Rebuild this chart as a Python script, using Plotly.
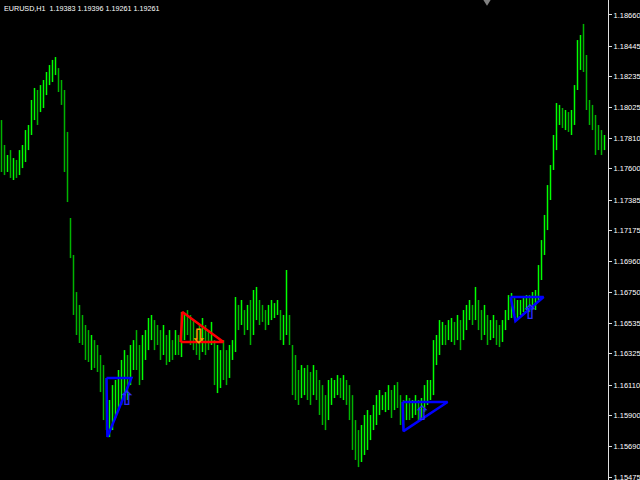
import plotly.graph_objects as go

# ---- data (EURUSD H1 bars) ----
high = [1.17936,1.17764,1.17695,1.17729,1.17674,1.17661,1.17729,1.17764,1.17867,1.17902,
        1.18074,1.18157,1.18143,1.18177,1.18212,1.18267,1.18315,1.18350,1.18370,1.18294,
        1.18212,1.18143,1.17854,1.17261,1.17006,1.16751,1.16662,1.16593,1.16524,1.16489,
        1.16455,1.16420,1.16386,1.16317,1.16248,1.16159,1.16007,1.16110,1.16145,1.16214,
        1.16283,1.16351,1.16317,1.16386,1.16420,1.16489,1.16386,1.16455,1.16489,1.16572,
        1.16593,1.16558,1.16524,1.16489,1.16524,1.16455,1.16489,1.16420,1.16489,1.16455,
        1.16613,1.16593,1.16627,1.16593,1.16558,1.16489,1.16524,1.16572,1.16524,1.16489,
        1.16545,1.16420,1.16386,1.16351,1.16420,1.16351,1.16386,1.16420,1.16717,1.16662,
        1.16696,1.16627,1.16662,1.16696,1.16765,1.16786,1.16696,1.16662,1.16627,1.16662,
        1.16696,1.16675,1.16696,1.16627,1.16593,1.16903,1.16593,1.16386,1.16317,1.16214,
        1.16248,1.16228,1.16248,1.16200,1.16248,1.16214,1.16145,1.16110,1.16041,1.16145,
        1.16159,1.16145,1.16179,1.16159,1.16179,1.16145,1.16110,1.16041,1.15869,1.15800,
        1.15835,1.15904,1.15938,1.15904,1.15973,1.16041,1.16076,1.16041,1.16062,1.16110,
        1.16076,1.16110,1.16131,1.16041,1.16007,1.16041,1.16021,1.16007,1.16041,1.16007,
        1.16021,1.16110,1.16145,1.16145,1.16420,1.16455,1.16558,1.16545,1.16524,1.16558,
        1.16572,1.16545,1.16593,1.16558,1.16627,1.16662,1.16696,1.16662,1.16786,1.16696,
        1.16627,1.16662,1.16593,1.16558,1.16593,1.16558,1.16524,1.16558,1.16627,1.16730,
        1.16744,1.16710,1.16696,1.16696,1.16724,1.16730,1.16730,1.16751,1.16765,1.16937,
        1.17109,1.17282,1.17488,1.17626,1.17833,1.18053,1.18040,1.18019,1.18005,1.17991,
        1.18005,1.18177,1.18487,1.18522,1.18598,1.18384,1.18074,1.18040,1.17971,1.17902,
        1.17867,1.17833]
low = [1.17578,1.17557,1.17578,1.17537,1.17523,1.17537,1.17557,1.17605,1.17647,1.17729,
       1.17833,1.17936,1.17902,1.17991,1.18019,1.18108,1.18177,1.18198,1.18246,1.18129,
       1.18040,1.17578,1.17371,1.16985,1.16593,1.16455,1.16400,1.16386,1.16283,1.16269,
       1.16214,1.16228,1.16200,1.16062,1.15869,1.15800,1.15752,1.15800,1.15883,1.15938,
       1.15973,1.16041,1.16007,1.16110,1.16214,1.16214,1.16110,1.16145,1.16283,1.16351,
       1.16420,1.16351,1.16386,1.16283,1.16317,1.16248,1.16269,1.16283,1.16317,1.16317,
       1.16303,1.16420,1.16455,1.16386,1.16351,1.16317,1.16283,1.16338,1.16317,1.16351,
       1.16386,1.16110,1.16055,1.16090,1.16145,1.16110,1.16159,1.16283,1.16338,1.16489,
       1.16524,1.16455,1.16489,1.16386,1.16455,1.16558,1.16524,1.16545,1.16489,1.16524,
       1.16558,1.16572,1.16593,1.16420,1.16386,1.16455,1.16386,1.16041,1.16007,1.15973,
       1.16021,1.16041,1.16007,1.15973,1.16041,1.16007,1.15904,1.15835,1.15800,1.15869,
       1.15973,1.16021,1.16041,1.16021,1.16007,1.15973,1.15869,1.15663,1.15594,1.15545,
       1.15580,1.15628,1.15663,1.15731,1.15800,1.15835,1.15904,1.15938,1.15924,1.15938,
       1.15883,1.15938,1.15952,1.15835,1.15814,1.15869,1.15869,1.15883,1.15904,1.15856,
       1.15869,1.15924,1.15973,1.16007,1.16041,1.16248,1.16317,1.16386,1.16386,1.16420,
       1.16407,1.16386,1.16420,1.16351,1.16420,1.16489,1.16558,1.16524,1.16558,1.16489,
       1.16420,1.16455,1.16386,1.16420,1.16434,1.16386,1.16372,1.16407,1.16489,1.16558,
       1.16572,1.16593,1.16572,1.16593,1.16613,1.16627,1.16613,1.16627,1.16627,1.16696,
       1.16834,1.17006,1.17178,1.17385,1.17592,1.17729,1.17902,1.17881,1.17867,1.17854,
       1.17833,1.17902,1.18143,1.18281,1.18267,1.18005,1.17902,1.17867,1.17695,1.17729,
       1.17695,1.17729]
close = [1.17729,1.17626,1.17661,1.17592,1.17626,1.17578,1.17695,1.17729,1.17798,1.17833,
         1.18040,1.18108,1.18005,1.18074,1.18143,1.18212,1.18281,1.18294,1.18336,1.18177,
         1.18108,1.17626,1.17419,1.17040,1.16696,1.16558,1.16489,1.16420,1.16386,1.16317,
         1.16351,1.16283,1.16248,1.16110,1.15938,1.15835,1.15869,1.16007,1.16041,1.16110,
         1.16179,1.16248,1.16214,1.16317,1.16351,1.16317,1.16248,1.16386,1.16420,1.16489,
         1.16524,1.16455,1.16420,1.16386,1.16420,1.16351,1.16386,1.16351,1.16420,1.16386,
         1.16524,1.16558,1.16524,1.16489,1.16455,1.16420,1.16386,1.16455,1.16420,1.16420,
         1.16455,1.16179,1.16214,1.16283,1.16248,1.16179,1.16283,1.16386,1.16627,1.16593,
         1.16627,1.16558,1.16593,1.16489,1.16627,1.16696,1.16627,1.16593,1.16572,1.16613,
         1.16627,1.16641,1.16662,1.16489,1.16524,1.16558,1.16420,1.16145,1.16110,1.16076,
         1.16110,1.16159,1.16076,1.16041,1.16145,1.16110,1.16007,1.15938,1.15904,1.16041,
         1.16076,1.16090,1.16110,1.16076,1.16110,1.16041,1.15973,1.15731,1.15697,1.15628,
         1.15731,1.15800,1.15835,1.15869,1.15904,1.15973,1.16007,1.16007,1.16021,1.16041,
         1.15973,1.16041,1.16007,1.15938,1.15938,1.15973,1.15938,1.15952,1.15973,1.15938,
         1.15973,1.16007,1.16076,1.16110,1.16351,1.16386,1.16455,1.16489,1.16455,1.16489,
         1.16524,1.16489,1.16524,1.16489,1.16558,1.16593,1.16641,1.16593,1.16627,1.16593,
         1.16524,1.16558,1.16489,1.16524,1.16524,1.16455,1.16420,1.16489,1.16593,1.16662,
         1.16662,1.16641,1.16662,1.16662,1.16675,1.16696,1.16682,1.16696,1.16730,1.16903,
         1.17075,1.17247,1.17419,1.17592,1.17798,1.17971,1.17971,1.17936,1.17950,1.17902,
         1.17936,1.18143,1.18384,1.18453,1.18350,1.18074,1.18005,1.17936,1.17833,1.17798,
         1.17764,1.17798]
first_open = 1.17900

tick_labels = ["1.18660", "1.18445", "1.18235", "1.18025", "1.17810", "1.17600",
               "1.17385", "1.17175", "1.16960", "1.16750", "1.16535", "1.16325",
               "1.16110", "1.15900", "1.15690", "1.15475"]

header = "EURUSD,H1  1.19383 1.19396 1.19261 1.19261"

# pattern triangles: (bar index, price)
blue_tri_1 = {"x": [35.0, 43.3, 35.3], "y": [1.16159, 1.16159, 1.15752]}
red_tri = {"x": [59.7, 74.0, 60.3], "y": [1.16407, 1.16407, 1.16613]}
blue_tri_2 = {"x": [133.7, 148.7, 134.0], "y": [1.15993, 1.15993, 1.15793]}
blue_tri_3 = {"x": [169.7, 180.7, 171.3], "y": [1.16717, 1.16717, 1.16551]}
up_arrows = {"x": [41.8, 140.2, 176.2], "y": [1.16007, 1.15904, 1.16600]}
down_arrows = {"x": [65.7], "y": [1.16435]}

# ---- build ----
n = len(high)
xs = list(range(n))
opens = []
prev = first_open
for h, l, c in zip(high, low, close):
    opens.append(min(max(prev, l), h))
    prev = c

fig = go.Figure()
fig.add_trace(go.Ohlc(
    x=xs, open=opens, high=high, low=low, close=close,
    increasing=dict(line=dict(color="#00ff00", width=1.5)),
    decreasing=dict(line=dict(color="#00b400", width=1.5)),
    tickwidth=0, hoverinfo="skip", showlegend=False))

def tri(d, color):
    fig.add_trace(go.Scatter(
        x=d["x"] + [d["x"][0]], y=d["y"] + [d["y"][0]], mode="lines",
        line=dict(color=color, width=2.5), hoverinfo="skip", showlegend=False))

tri(blue_tri_1, "#0000ff")
tri(red_tri, "#ff0000")
tri(blue_tri_2, "#0000ff")
tri(blue_tri_3, "#0000ff")

fig.add_trace(go.Scatter(
    x=up_arrows["x"], y=up_arrows["y"], mode="text", text=["⇧"] * len(up_arrows["x"]),
    textfont=dict(color="#2a2aff", size=20, family="DejaVu Sans", weight="bold"),
    hoverinfo="skip", showlegend=False))
fig.add_trace(go.Scatter(
    x=down_arrows["x"], y=down_arrows["y"], mode="text", text=["⇩"],
    textfont=dict(color="#ff9900", size=20, family="DejaVu Sans", weight="bold"),
    hoverinfo="skip", showlegend=False))

tick_vals = [float(t) for t in tick_labels]

fig.update_layout(
    width=640, height=480,
    margin=dict(l=0, r=32, t=0, b=0, autoexpand=False),
    paper_bgcolor="#000000", plot_bgcolor="#000000",
    xaxis=dict(visible=False, range=[-0.5, n - 0.5 + 0.6667],
               rangeslider=dict(visible=False), fixedrange=True),
    yaxis=dict(side="right", range=[1.15456, 1.18763], showgrid=False, zeroline=False,
               showline=True, linecolor="#e0e0e0", linewidth=1,
               ticks="outside", ticklen=3, tickcolor="#e0e0e0",
               tickvals=tick_vals, ticktext=tick_labels, automargin=False,
               ticklabeloverflow="allow",
               tickfont=dict(color="#ffffff", size=7.5,
                             family="Liberation Sans Narrow, Liberation Sans")),
    annotations=[dict(text=header, xref="paper", yref="paper", x=0, y=1,
                      xanchor="left", yanchor="top", xshift=2, yshift=-2,
                      showarrow=False,
                      font=dict(color="#ffffff", size=7.2,
                                family="Liberation Sans Narrow, Liberation Sans"))],
    shapes=[dict(type="path", xref="paper", yref="paper",
                 path="M 0.795 1 L 0.807 1 L 0.801 0.988 Z",
                 fillcolor="#808080", line=dict(width=0))],
    showlegend=False,
)

fig.write_html("out.html", config={"displayModeBar": False},
               post_script="document.body.style.margin='0';document.body.style.overflow='hidden';")
